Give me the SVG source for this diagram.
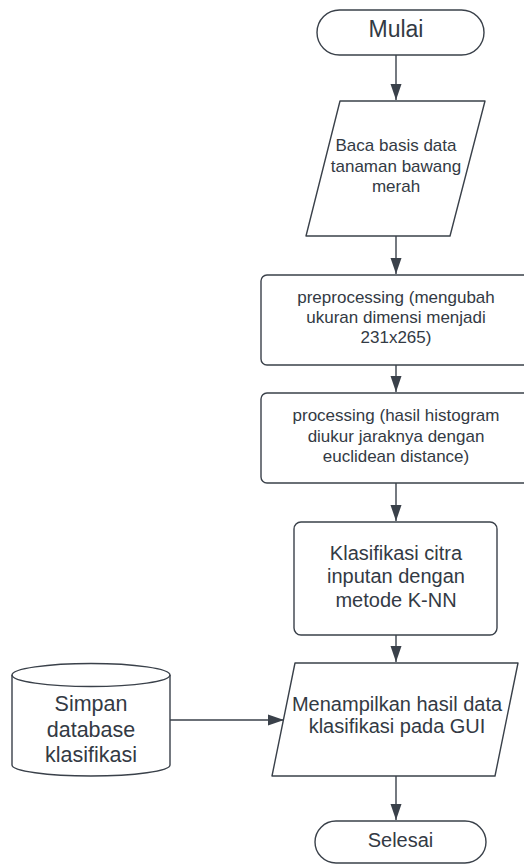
<svg xmlns="http://www.w3.org/2000/svg" width="524" height="865" viewBox="0 0 524 865">
<style>
.s{fill:#ffffff;stroke:#3a414a;stroke-width:1.4;stroke-linejoin:round}
.t{font-family:"Liberation Sans",Arial,sans-serif;fill:#333a44;text-anchor:middle}
.c{fill:none;stroke:#3a414a;stroke-width:1.4}
</style>
<defs>
<marker id="ah" markerUnits="userSpaceOnUse" markerWidth="16" markerHeight="12" refX="16" refY="6" orient="auto">
<path d="M0,0.5 L16,6 L0,11.5 Z" fill="#3a414a"/>
</marker>
</defs>
<rect width="524" height="865" fill="#ffffff"/>
<g id="connectors">
<line class="c" x1="396" y1="55" x2="396" y2="100" marker-end="url(#ah)"/>
<line class="c" x1="396" y1="236" x2="396" y2="274" marker-end="url(#ah)"/>
<line class="c" x1="396" y1="365" x2="396" y2="392" marker-end="url(#ah)"/>
<line class="c" x1="396" y1="483" x2="396" y2="521" marker-end="url(#ah)"/>
<line class="c" x1="396" y1="635" x2="396" y2="662" marker-end="url(#ah)"/>
<line class="c" x1="170" y1="720" x2="284" y2="720" marker-end="url(#ah)"/>
<line class="c" x1="396" y1="776" x2="396" y2="820" marker-end="url(#ah)"/>
</g>
<g id="mulai">
<rect class="s" x="317" y="10" width="167" height="45" rx="22.5"/>
<text class="t" x="396" y="36.5" font-size="23">Mulai</text>
</g>
<g id="baca">
<path class="s" d="M340,101 L485,101 L450,236 L306,236 Z"/>
<text class="t" font-size="17"><tspan x="396" y="151">Baca basis data</tspan><tspan x="396" y="172">tanaman bawang</tspan><tspan x="396" y="192">merah</tspan></text>
</g>
<g id="preprocessing">
<rect class="s" x="261" y="275" width="272" height="90" rx="6"/>
<text class="t" font-size="17"><tspan x="396" y="303">preprocessing (mengubah</tspan><tspan x="396" y="323">ukuran dimensi menjadi</tspan><tspan x="396" y="343">231x265)</tspan></text>
</g>
<g id="processing">
<rect class="s" x="261" y="393" width="272" height="90" rx="6"/>
<text class="t" font-size="17"><tspan x="396" y="421">processing (hasil histogram</tspan><tspan x="396" y="442">diukur jaraknya dengan</tspan><tspan x="396" y="462">euclidean distance)</tspan></text>
</g>
<g id="klasifikasi">
<rect class="s" x="294" y="522" width="203" height="113" rx="7"/>
<text class="t" font-size="20"><tspan x="396" y="560">Klasifikasi citra</tspan><tspan x="396" y="583">inputan dengan</tspan><tspan x="396" y="607">metode K-NN</tspan></text>
</g>
<g id="menampilkan">
<path class="s" d="M295,663 L518,663 L495,776 L272,776 Z"/>
<text class="t" font-size="20"><tspan x="397" y="711">Menampilkan hasil data</tspan><tspan x="397" y="733">klasifikasi pada GUI</tspan></text>
</g>
<g id="simpan">
<path class="s" d="M12,675 A79,11.5 0 0 1 170,675 L170,765 A79,11 0 0 1 12,765 Z"/>
<path class="c" d="M12,675 A79,11.5 0 0 0 170,675"/>
<text class="t" font-size="21.5"><tspan x="91" y="711">Simpan</tspan><tspan x="91" y="737">database</tspan><tspan x="91" y="762">klasifikasi</tspan></text>
</g>
<g id="selesai">
<rect class="s" x="315" y="821" width="171" height="42" rx="21"/>
<text class="t" x="400.5" y="847" font-size="20">Selesai</text>
</g>
</svg>
